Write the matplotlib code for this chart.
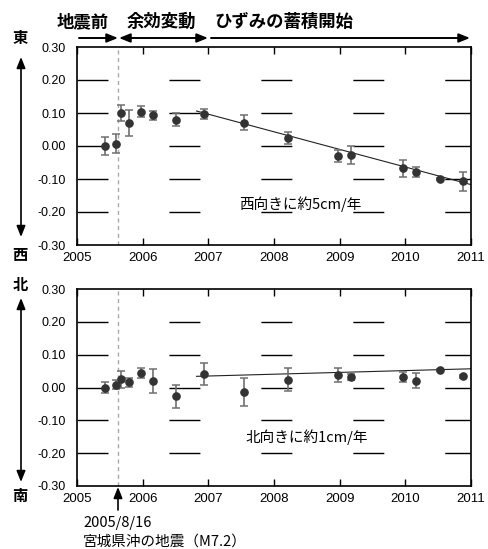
import matplotlib
matplotlib.use("Agg")
import matplotlib.pyplot as plt
import numpy as np

# ---------------- data ----------------
t = [2005.426, 2005.59, 2005.665, 2005.79, 2005.97, 2006.157, 2006.50, 2006.94,
     2007.54, 2008.21, 2008.98, 2009.18, 2009.96, 2010.17, 2010.53, 2010.875]
ew = [0.000, 0.007, 0.100, 0.070, 0.104, 0.093, 0.080, 0.098,
      0.070, 0.024, -0.030, -0.028, -0.068, -0.078, -0.100, -0.107]
ew_err = [0.028, 0.028, 0.025, 0.040, 0.016, 0.013, 0.020, 0.015,
          0.023, 0.018, 0.018, 0.028, 0.025, 0.015, 0.003, 0.028]
ns = [0.000, 0.009, 0.025, 0.016, 0.043, 0.019, -0.027, 0.041,
      -0.014, 0.024, 0.037, 0.032, 0.031, 0.021, 0.054, 0.034]
ns_err = [0.017, 0.015, 0.026, 0.013, 0.015, 0.036, 0.035, 0.034,
          0.043, 0.034, 0.021, 0.010, 0.015, 0.024, 0.003, 0.005]
trend_t = [2006.82, 2011.0]
ew_trend = [0.106, -0.117]
ns_trend = [0.034, 0.057]
quake_t = 2005.624
xticks = [2005, 2006, 2007, 2008, 2009, 2010, 2011]
yticks = [-0.30, -0.20, -0.10, 0.00, 0.10, 0.20, 0.30]
grid_y = [-0.20, -0.10, 0.00, 0.10, 0.20]

CJK = ['Noto Sans CJK JP', 'DejaVu Sans']
LAT = ['Liberation Sans', 'DejaVu Sans']

W, H = 489, 549
fig = plt.figure(figsize=(W / 100, H / 100), dpi=100)
fig.patch.set_facecolor('white')

def fx(px):
    return px / W

def fy(py):
    return 1 - py / H

ax1 = fig.add_axes([77 / W, fy(245), 394 / W, 198 / H])
ax2 = fig.add_axes([77 / W, fy(486), 394 / W, 197 / H])

for ax, vals, errs, trend in [(ax1, ew, ew_err, ew_trend), (ax2, ns, ns_err, ns_trend)]:
    ax.set_xlim(2005, 2011)
    ax.set_ylim(-0.30, 0.30)
    for gy in grid_y:
        ax.axhline(gy, color='black', lw=1.0, linestyle=(0, (22.3, 43.9)), zorder=1)
    ax.axvline(quake_t, color='#aaaaaa', lw=1.0, linestyle=(0, (3, 2.5)), zorder=1)
    ax.errorbar(t, vals, yerr=errs, fmt='none', ecolor='#707070', elinewidth=1.2,
                capsize=2.8, capthick=1.1, zorder=3)
    ax.plot(t, vals, 'o', color='#333333', markersize=5.2, zorder=4)
    ax.plot(trend_t, trend, color='#222222', lw=0.8, zorder=2)
    ax.set_xticks(xticks)
    ax.set_xticklabels([str(x) for x in xticks], family=LAT, fontsize=9.5)
    ax.set_yticks(yticks)
    ax.set_yticklabels(['%.2f' % y for y in yticks], family=LAT, fontsize=9)
    ax.tick_params(axis='x', direction='in', length=5, width=1.0, top=True, pad=5)
    ax.tick_params(axis='y', length=0, pad=8)
    for s in ax.spines.values():
        s.set_linewidth(1.2)
        s.set_color('black')

ax1.text(2008.4, -0.175, '西向きに約5cm/年', family=CJK, fontsize=10.5, ha='center', va='center')
ax2.text(2008.5, -0.15, '北向きに約1cm/年', family=CJK, fontsize=10.5, ha='center', va='center')

# header texts
fig.text(fx(83), fy(22), '地震前', family=CJK, fontsize=12.5, fontweight='bold', ha='center', va='center')
fig.text(fx(161), fy(22), '余効変動', family=CJK, fontsize=12.5, fontweight='bold', ha='center', va='center')
fig.text(fx(284), fy(22), 'ひずみの蓄積開始', family=CJK, fontsize=12.5, fontweight='bold', ha='center', va='center')

def farrow(x0, y0, x1, y1, style='-|>', lw=1.4):
    fig.add_artist(matplotlib.patches.FancyArrowPatch(
        (fx(x0), fy(y0)), (fx(x1), fy(y1)), transform=fig.transFigure,
        arrowstyle=style + ',head_length=0.55,head_width=0.22' if style != '<|-|>' else '<|-|>,head_length=0.55,head_width=0.22',
        mutation_scale=12, color='black', lw=lw, shrinkA=0, shrinkB=0))

farrow(79, 38, 118, 38)
farrow(119, 38, 208, 38, style='<|-|>')
farrow(211, 38, 470, 38)

# side arrows and labels
farrow(21, 237, 21, 57, style='<|-|>', lw=1.2)
farrow(21, 482, 21, 298, style='<|-|>', lw=1.2)
for txt, yy in [('東', 38), ('西', 255), ('北', 285), ('南', 496)]:
    fig.text(fx(20), fy(yy), txt, family=CJK, fontsize=11, fontweight='bold', ha='center', va='center')

# earthquake annotation
farrow(118, 510, 118, 487, lw=1.2)
fig.text(fx(83), fy(523), '2005/8/16', family=CJK, fontsize=10.5, ha='left', va='center')
fig.text(fx(83), fy(542), '宮城県沖の地震（M7.2）', family=CJK, fontsize=10.5, ha='left', va='center')

fig.savefig('out.png', dpi=100, facecolor='white')
